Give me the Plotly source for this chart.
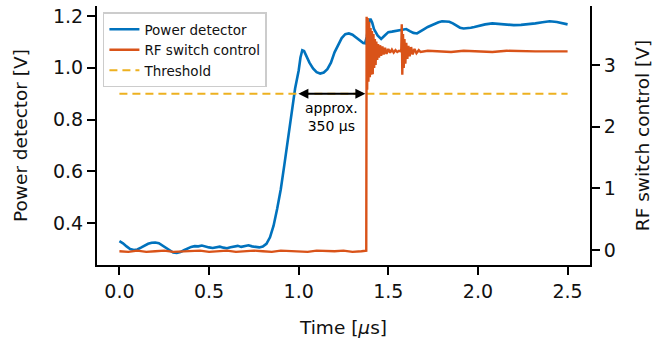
import plotly.graph_objects as go

# ---- data ----
pd_time = [0.00, 0.02, 0.04, 0.06, 0.08, 0.10, 0.12, 0.14, 0.16, 0.18, 0.20, 0.22, 0.24, 0.26, 0.28,
           0.30, 0.32, 0.34, 0.36, 0.38, 0.40, 0.42, 0.44, 0.46, 0.48, 0.50, 0.52, 0.54, 0.56, 0.58,
           0.60, 0.62, 0.64, 0.66, 0.68, 0.70, 0.72, 0.74, 0.76, 0.78, 0.80, 0.82, 0.84, 0.86, 0.88,
           0.90, 0.92, 0.94, 0.96, 0.98, 1.00, 1.01, 1.02, 1.03, 1.04, 1.06, 1.08, 1.10, 1.12, 1.14,
           1.16, 1.18, 1.20, 1.22, 1.24, 1.26, 1.28, 1.30, 1.32, 1.34, 1.36, 1.37, 1.38, 1.39, 1.40,
           1.41, 1.42, 1.44, 1.46, 1.48, 1.50, 1.52, 1.54, 1.56, 1.58, 1.60, 1.62, 1.64, 1.66, 1.68,
           1.70, 1.72, 1.74, 1.76, 1.78, 1.80, 1.82, 1.84, 1.86, 1.88, 1.90, 1.92, 1.94, 1.96, 1.98,
           2.00, 2.04, 2.08, 2.12, 2.16, 2.20, 2.24, 2.28, 2.32, 2.36, 2.40, 2.44, 2.48, 2.50]
pd_volts = [0.330, 0.322, 0.310, 0.300, 0.296, 0.298, 0.305, 0.313, 0.320, 0.324, 0.325, 0.322, 0.313, 0.302, 0.292,
            0.286, 0.285, 0.288, 0.295, 0.302, 0.308, 0.311, 0.310, 0.313, 0.309, 0.306, 0.304, 0.306, 0.309, 0.305,
            0.303, 0.307, 0.310, 0.312, 0.308, 0.311, 0.314, 0.310, 0.307, 0.306, 0.309, 0.320, 0.345, 0.390, 0.455,
            0.530, 0.625, 0.725, 0.825, 0.920, 0.990, 1.040, 1.068, 1.065, 1.050, 1.020, 0.998, 0.983, 0.978, 0.982,
            0.995, 1.020, 1.060, 1.090, 1.115, 1.130, 1.133, 1.128, 1.118, 1.105, 1.096, 1.095, 1.120, 1.170, 1.190,
            1.175, 1.150, 1.125, 1.112, 1.125, 1.138, 1.140, 1.142, 1.145, 1.147, 1.150, 1.142, 1.135, 1.133, 1.140,
            1.150, 1.158, 1.165, 1.170, 1.176, 1.180, 1.180, 1.178, 1.172, 1.162, 1.155, 1.152, 1.153, 1.155, 1.158,
            1.162, 1.168, 1.172, 1.170, 1.167, 1.165, 1.166, 1.168, 1.172, 1.176, 1.180, 1.177, 1.172, 1.168]

rf_time = [0.00, 0.05, 0.10, 0.15, 0.20, 0.25, 0.30, 0.35, 0.40, 0.45, 0.50, 0.55, 0.60, 0.65, 0.70,
           0.75, 0.80, 0.85, 0.90, 0.95, 1.00, 1.05, 1.10, 1.15, 1.20, 1.25, 1.30, 1.35, 1.377,
           1.379, 1.382, 1.385, 1.389, 1.393, 1.397, 1.401, 1.405, 1.409, 1.413, 1.417, 1.421, 1.425,
           1.429, 1.433, 1.438, 1.443, 1.448, 1.454, 1.460, 1.467, 1.474, 1.482, 1.490, 1.500, 1.510,
           1.520, 1.530, 1.540, 1.550, 1.560, 1.572, 1.575, 1.578, 1.582, 1.586, 1.590, 1.595, 1.600,
           1.606, 1.612, 1.619, 1.627, 1.636, 1.646, 1.657, 1.670, 1.680, 1.72, 1.78, 1.85, 1.92, 2.00,
           2.08, 2.16, 2.24, 2.32, 2.40, 2.50]
rf_volts = [-0.02, -0.03, -0.01, -0.03, -0.02, -0.01, -0.03, -0.02, -0.02, -0.01, -0.03, -0.02, -0.01, -0.03, -0.02,
            -0.01, -0.02, -0.03, -0.01, -0.02, -0.02, -0.03, -0.01, -0.02, -0.02, -0.01, -0.03, -0.02, -0.01,
            3.78, 2.60, 3.76, 2.73, 3.70, 2.80, 3.60, 2.84, 3.55, 2.85, 3.50, 2.95, 3.42,
            3.00, 3.38, 3.08, 3.34, 3.12, 3.32, 3.15, 3.30, 3.17, 3.28, 3.18, 3.26, 3.20,
            3.25, 3.20, 3.24, 3.21, 3.23, 3.22, 3.66, 2.84, 3.50, 2.95, 3.42, 3.02, 3.36,
            3.10, 3.31, 3.14, 3.29, 3.17, 3.26, 3.19, 3.24, 3.21, 3.23, 3.22, 3.21, 3.23, 3.22,
            3.21, 3.23, 3.22, 3.22, 3.22, 3.22]

threshold_time = [0.0, 2.5]
threshold_volts = [0.9, 0.9]

arrow_start = 0.99
arrow_end = 1.372
arrow_level = 0.9

x_ticks = [0.0, 0.5, 1.0, 1.5, 2.0, 2.5]
y_ticks = [0.4, 0.6, 0.8, 1.0, 1.2]
y2_ticks = [0, 1, 2, 3]

BLUE = "#0072BD"
ORANGE = "#D95319"
YELLOW = "#EDB120"
FONT = "DejaVu Sans"

fig = go.Figure()
fig.add_trace(go.Scatter(x=pd_time, y=pd_volts, mode="lines", name="Power detector",
                         line=dict(color=BLUE, width=2.6), yaxis="y"))
fig.add_trace(go.Scatter(x=rf_time, y=rf_volts, mode="lines", name="RF switch control",
                         line=dict(color=ORANGE, width=2.4), yaxis="y2"))
fig.add_trace(go.Scatter(x=threshold_time, y=threshold_volts, mode="lines", name="Threshold",
                         line=dict(color=YELLOW, width=2, dash="8px,5px"), yaxis="y"))

fig.add_annotation(x=arrow_end, y=arrow_level, ax=arrow_start, ay=arrow_level,
                   xref="x", yref="y", axref="x", ayref="y", text="",
                   showarrow=True, arrowhead=2, arrowside="end+start",
                   arrowwidth=2, arrowsize=1, arrowcolor="black")
fig.add_annotation(x=(arrow_start + arrow_end) / 2, y=arrow_level, xref="x", yref="y",
                   text="approx.<br>350 µs", showarrow=False, yanchor="top", yshift=-4,
                   font=dict(family=FONT, size=14, color="black"))

axis_common = dict(showline=True, linecolor="black", linewidth=2, ticks="outside",
                   ticklen=8, tickwidth=2, tickcolor="black", showgrid=False, zeroline=False,
                   tickfont=dict(family=FONT, size=19, color="#111"))

fig.update_layout(
    width=667, height=341,
    margin=dict(l=97, r=77, t=6, b=76),
    plot_bgcolor="white", paper_bgcolor="white",
    font=dict(family=FONT, color="#111"),
    xaxis=dict(range=[-0.125, 2.625], tickvals=x_ticks, ticktext=[f"{v:.1f}" for v in x_ticks],
               title=dict(text="Time [<i>µ</i>s]", font=dict(family=FONT, size=18.5), standoff=20),
               **axis_common),
    yaxis=dict(range=[0.238, 1.239], tickvals=y_ticks, ticktext=[f"{v:.1f}" for v in y_ticks],
               title=dict(text="Power detector [V]", font=dict(family=FONT, size=18.5), standoff=21),
               **axis_common),
    yaxis2=dict(range=[-0.243, 3.956], tickvals=y2_ticks, overlaying="y", side="right",
                title=dict(text="RF switch control [V]", font=dict(family=FONT, size=18.5), standoff=21),
                **axis_common),
    legend=dict(x=0.012, y=0.975, xanchor="left", yanchor="top",
                bgcolor="rgba(255,255,255,0.9)", bordercolor="#cccccc", borderwidth=1.5,
                font=dict(family=FONT, size=13.5, color="#111"), tracegroupgap=0, itemwidth=30),
    showlegend=True,
)

fig.write_html("out.html")
